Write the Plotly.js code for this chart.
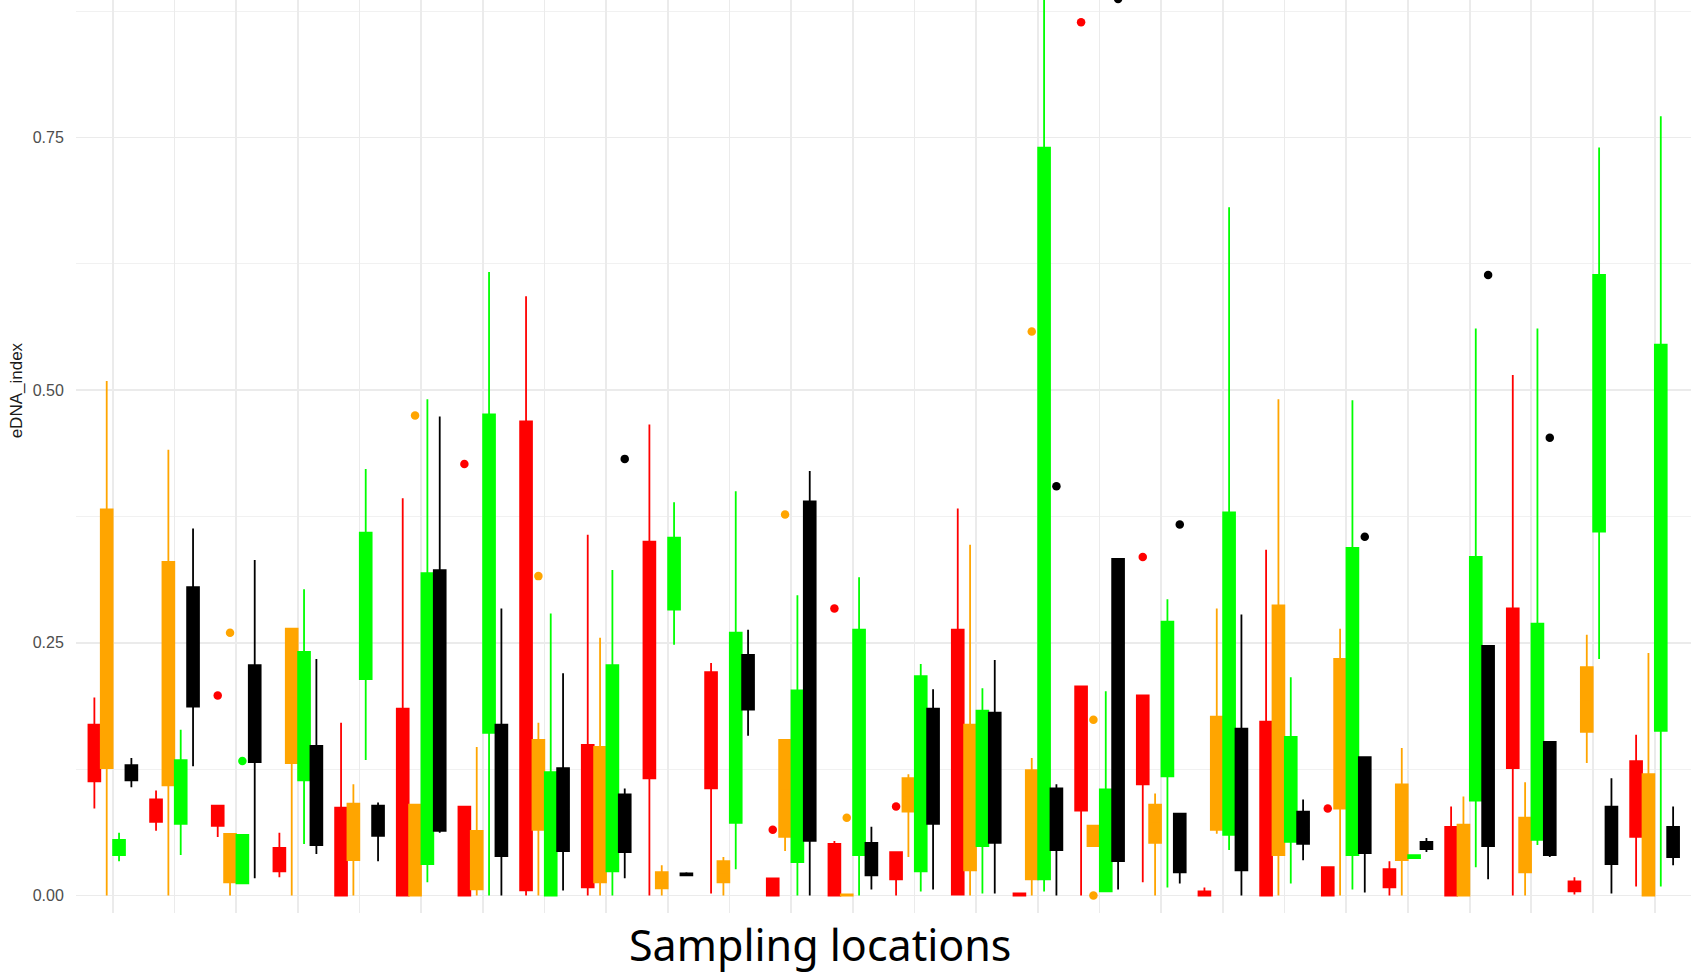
<!DOCTYPE html>
<html>
<head>
<meta charset="utf-8">
<script src="https://cdn.plot.ly/plotly-3.0.1.min.js"></script>
<style>
  html, body { margin: 0; padding: 0; background: #ffffff; }
  #chart { width: 1691px; height: 973px; }
</style>
</head>
<body>
<div id="chart"></div>
<script>
// ---------------- DATA ----------------
const locations = [1, 2, 3, 4, 5, 6, 7, 8, 9, 10, 11, 12, 13, 14, 15, 16, 17, 18, 19, 20, 21, 22, 23, 24, 25, 26];
const groupNames = ["Group 1", "Group 2", "Group 3", "Group 4"];
const groupColors = ["#ff0000", "#ffa500", "#00ff00", "#000000"];

// Group 1 (red)
const redLower  = [0.086, 0.064, 0.058, 0.018, 0.000, 0.000, 0.000, 0.000, 0.000, 0.000, 0.002, 0.000, 0.000, 0.000, 0.000, 0.000, 0.000, 0.013, 0.000, 0.000, 0.000, 0.000, 0.000, 0.000, 0.001, 0.009];
const redQ1     = [0.113, 0.073, 0.069, 0.024, 0.000, 0.000, 0.000, 0.005, 0.008, 0.116, 0.106, 0.000, 0.000, 0.016, 0.001, 0.000, 0.084, 0.110, 0.000, 0.000, 0.000, 0.008, 0.000, 0.126, 0.004, 0.058];
const redMedian = [0.141, 0.084, 0.079, 0.035, 0.043, 0.092, 0.044, 0.237, 0.078, 0.233, 0.163, 0.008, 0.025, 0.029, 0.132, 0.001, 0.145, 0.154, 0.002, 0.086, 0.014, 0.017, 0.034, 0.205, 0.009, 0.095];
const redQ3     = [0.169, 0.095, 0.089, 0.047, 0.087, 0.185, 0.088, 0.469, 0.149, 0.350, 0.221, 0.017, 0.051, 0.043, 0.263, 0.002, 0.207, 0.198, 0.004, 0.172, 0.028, 0.026, 0.068, 0.284, 0.014, 0.133];
const redUpper  = [0.196, 0.104, 0.089, 0.062, 0.171, 0.393, 0.088, 0.593, 0.357, 0.466, 0.230, 0.017, 0.054, 0.043, 0.383, 0.003, 0.207, 0.198, 0.008, 0.342, 0.028, 0.034, 0.088, 0.515, 0.018, 0.159];
const redOutLoc = [3, 7, 12, 13, 14, 17, 18, 21];
const redOutVal = [0.198, 0.427, 0.065, 0.284, 0.088, 0.864, 0.335, 0.086];

// Group 2 (orange)
const orangeLower  = [0.000, 0.000, 0.000, 0.000, 0.000, 0.000, 0.000, 0.000, 0.000, 0.000, 0.000, 0.044, 0.000, 0.038, 0.000, 0.000, 0.049, 0.000, 0.061, 0.000, 0.000, 0.000, 0.000, 0.000, 0.131, 0.000];
const orangeQ1     = [0.126, 0.109, 0.013, 0.131, 0.035, 0.000, 0.006, 0.065, 0.013, 0.007, 0.013, 0.058, 0.000, 0.083, 0.025, 0.016, 0.049, 0.052, 0.065, 0.040, 0.086, 0.035, 0.000, 0.023, 0.162, 0.000];
const orangeMedian = [0.254, 0.219, 0.037, 0.197, 0.063, 0.045, 0.035, 0.110, 0.080, 0.015, 0.023, 0.106, 0.001, 0.099, 0.097, 0.070, 0.059, 0.071, 0.121, 0.163, 0.160, 0.072, 0.035, 0.050, 0.194, 0.060];
const orangeQ3     = [0.382, 0.330, 0.061, 0.264, 0.091, 0.090, 0.064, 0.154, 0.147, 0.023, 0.034, 0.154, 0.001, 0.116, 0.169, 0.124, 0.069, 0.090, 0.177, 0.287, 0.234, 0.110, 0.070, 0.077, 0.226, 0.120];
const orangeUpper  = [0.509, 0.441, 0.061, 0.264, 0.110, 0.090, 0.147, 0.171, 0.255, 0.030, 0.038, 0.154, 0.001, 0.120, 0.347, 0.136, 0.069, 0.101, 0.284, 0.491, 0.264, 0.146, 0.098, 0.112, 0.258, 0.240];
const orangeOutLoc = [3, 6, 8, 12, 13, 16, 17, 17];
const orangeOutVal = [0.260, 0.475, 0.316, 0.377, 0.077, 0.558, 0.174, 0.000];

// Group 3 (green)
const greenLower  = [0.034, 0.040, 0.012, 0.051, 0.134, 0.013, 0.000, 0.000, 0.000, 0.248, 0.026, 0.000, 0.000, 0.004, 0.002, 0.004, 0.004, 0.008, 0.045, 0.012, 0.006, 0.037, 0.028, 0.050, 0.234, 0.009];
const greenQ1     = [0.040, 0.071, 0.012, 0.114, 0.214, 0.031, 0.161, 0.000, 0.024, 0.283, 0.072, 0.033, 0.040, 0.024, 0.049, 0.016, 0.004, 0.118, 0.060, 0.053, 0.040, 0.037, 0.094, 0.055, 0.360, 0.163];
const greenMedian = [0.047, 0.102, 0.036, 0.177, 0.286, 0.175, 0.318, 0.061, 0.126, 0.318, 0.166, 0.118, 0.152, 0.120, 0.116, 0.378, 0.054, 0.195, 0.219, 0.105, 0.192, 0.038, 0.214, 0.162, 0.487, 0.354];
const greenQ3     = [0.055, 0.134, 0.060, 0.241, 0.359, 0.319, 0.476, 0.122, 0.228, 0.354, 0.260, 0.203, 0.263, 0.217, 0.183, 0.740, 0.105, 0.271, 0.379, 0.157, 0.344, 0.040, 0.335, 0.269, 0.614, 0.545];
const greenUpper  = [0.062, 0.164, 0.060, 0.303, 0.422, 0.491, 0.617, 0.279, 0.322, 0.389, 0.400, 0.297, 0.315, 0.229, 0.205, 0.960, 0.202, 0.293, 0.681, 0.216, 0.490, 0.040, 0.561, 0.561, 0.740, 0.771];
const greenOutLoc = [3];
const greenOutVal = [0.133];

// Group 4 (black)
const blackLower  = [0.107, 0.128, 0.017, 0.041, 0.034, 0.062, 0.000, 0.005, 0.017, 0.019, 0.158, 0.000, 0.006, 0.006, 0.002, 0.000, 0.006, 0.012, 0.000, 0.035, 0.003, 0.043, 0.016, 0.038, 0.002, 0.030];
const blackQ1     = [0.114, 0.187, 0.132, 0.050, 0.059, 0.064, 0.039, 0.044, 0.043, 0.020, 0.184, 0.054, 0.020, 0.071, 0.052, 0.045, 0.034, 0.023, 0.025, 0.051, 0.042, 0.046, 0.049, 0.040, 0.031, 0.038];
const blackMedian = [0.121, 0.246, 0.180, 0.099, 0.074, 0.193, 0.104, 0.085, 0.071, 0.021, 0.211, 0.222, 0.036, 0.128, 0.116, 0.075, 0.183, 0.052, 0.095, 0.067, 0.090, 0.049, 0.148, 0.096, 0.060, 0.053];
const blackQ3     = [0.129, 0.305, 0.228, 0.148, 0.089, 0.322, 0.169, 0.126, 0.100, 0.022, 0.238, 0.390, 0.052, 0.185, 0.181, 0.106, 0.333, 0.081, 0.165, 0.083, 0.137, 0.053, 0.247, 0.152, 0.088, 0.068];
const blackUpper  = [0.136, 0.363, 0.332, 0.234, 0.092, 0.474, 0.284, 0.220, 0.106, 0.023, 0.263, 0.420, 0.068, 0.204, 0.233, 0.110, 0.333, 0.081, 0.278, 0.095, 0.137, 0.057, 0.247, 0.152, 0.116, 0.088];
const blackOutLoc = [9, 16, 17, 18, 21, 23, 24];
const blackOutVal = [0.432, 0.405, 0.887, 0.367, 0.355, 0.614, 0.453];

const yTickVals = [0, 0.25, 0.5, 0.75];
const yTickText = ["0.00", "0.25", "0.50", "0.75"];
const yTitle = "eDNA_index";
const xTitle = "Sampling locations";

// ---------------- CHART ----------------
const series = [
  {lower: redLower, q1: redQ1, med: redMedian, q3: redQ3, upper: redUpper, outLoc: redOutLoc, outVal: redOutVal},
  {lower: orangeLower, q1: orangeQ1, med: orangeMedian, q3: orangeQ3, upper: orangeUpper, outLoc: orangeOutLoc, outVal: orangeOutVal},
  {lower: greenLower, q1: greenQ1, med: greenMedian, q3: greenQ3, upper: greenUpper, outLoc: greenOutLoc, outVal: greenOutVal},
  {lower: blackLower, q1: blackQ1, med: blackMedian, q3: blackQ3, upper: blackUpper, outLoc: blackOutLoc, outVal: blackOutVal}
];

// dodge: 4 groups spread over 0.8 of a category slot
const dodgeWidth = 0.8;
const nGroups = series.length;
const slot = dodgeWidth / nGroups;
const offsetOf = g => -dodgeWidth / 2 + slot * (g + 0.5);
const locIndex = loc => locations.indexOf(loc);

const traces = [];
series.forEach((s, g) => {
  const off = offsetOf(g);
  traces.push({
    type: "box",
    name: groupNames[g],
    x: locations.map((loc, i) => i + off),
    q1: s.q1, median: s.med, q3: s.q3,
    lowerfence: s.lower, upperfence: s.upper,
    width: 0.192,
    boxpoints: false,
    whiskerwidth: 0,
    fillcolor: groupColors[g],
    line: {color: groupColors[g], width: 1.8},
    hoverinfo: "skip"
  });
});
series.forEach((s, g) => {
  const off = offsetOf(g);
  traces.push({
    type: "scatter",
    mode: "markers",
    name: groupNames[g] + " outliers",
    x: s.outLoc.map(loc => locIndex(loc) + off),
    y: s.outVal,
    marker: {color: groupColors[g], size: 8.5},
    cliponaxis: true,
    hoverinfo: "skip"
  });
});

const gridCol = "#ebebeb";
const layout = {
  width: 1691, height: 973,
  margin: {l: 76, r: 0, t: 0, b: 60},
  paper_bgcolor: "#ffffff", plot_bgcolor: "#ffffff",
  showlegend: false,
  boxmode: "overlay",
  xaxis: {
    range: [-0.598, 25.59],
    tickvals: locations.map((loc, i) => i),
    showticklabels: false, ticks: "",
    showgrid: true, gridcolor: gridCol, gridwidth: 1.8,
    zeroline: false, showline: false
  },
  yaxis: {
    range: [-0.0173, 0.886],
    tickvals: yTickVals, ticktext: yTickText,
    ticks: "outside", ticklen: 8, tickcolor: "rgba(0,0,0,0)",
    tickfont: {family: "Liberation Sans, Arial, sans-serif", size: 16, color: "#4d4d4d"},
    showgrid: true, gridcolor: gridCol, gridwidth: 1.8,
    minor: {tickvals: [0.125, 0.375, 0.625, 0.875], showgrid: true, gridcolor: "#f1f1f1", gridwidth: 1.2, ticks: ""},
    zeroline: false, showline: false
  },
  annotations: [
    {
      text: yTitle, textangle: -90, showarrow: false,
      xref: "paper", yref: "paper", x: -0.0368, y: 0.572,
      xanchor: "center", yanchor: "middle",
      font: {family: "Liberation Sans, Arial, sans-serif", size: 17, color: "#1a1a1a"}
    },
    {
      text: xTitle, showarrow: false,
      xref: "paper", yref: "paper", x: 0.4607, y: -0.0345,
      xanchor: "center", yanchor: "middle",
      font: {family: "Noto Sans, sans-serif", size: 43, color: "#000000"}
    }
  ]
};

Plotly.newPlot("chart", traces, layout, {displayModeBar: false, staticPlot: true});
</script>
</body>
</html>
